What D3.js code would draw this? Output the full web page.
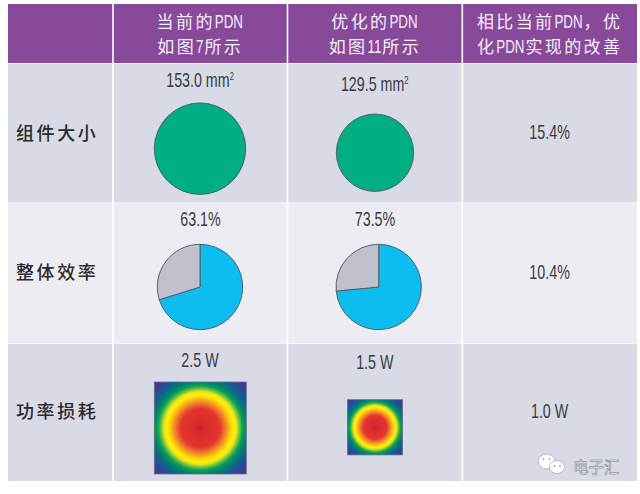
<!DOCTYPE html>
<html><head><meta charset="utf-8">
<script src="https://cdn.jsdelivr.net/npm/d3@7/dist/d3.min.js"></script>
<style>
html,body{margin:0;padding:0;background:#fff}
svg{display:block}
</style></head><body>
<svg id="c" width="640" height="494"></svg>
<script>
// Data
const headerLine1 = ["", "当前的PDN", "优化的PDN", "相比当前PDN，优"];
const headerLine2 = ["", "如图7所示", "如图11所示", "化PDN实现的改善"];
const rowLabels = ["组件大小", "整体效率", "功率损耗"];
const areaValues = [153.0, 129.5];
const areaLabels = ["153.0 mm", "129.5 mm"];
const drawnPieShare = [70.2, 73.5];
const efficiencyLabels = ["63.1%", "73.5%"];
const lossValues = [2.5, 1.5];
const lossLabels = ["2.5 W", "1.5 W"];
const improvements = ["15.4%", "10.4%", "1.0 W"];
const heatOffsets = [0, .06, .30, .38, .46, .51, .56, .60, .65, .71, .80, .90, 1];
const heatColors = ["#c41e2a", "#d42a2c", "#e5352e", "#ee7a2a", "#fcc514", "#fff100", "#e6e51c", "#7cc242", "#07a651", "#047f6e", "#0f5f96", "#3a3c98", "#5b2b92"];

const svg = d3.select("#c");
const colEdges = [8, 113, 287.5, 462.3, 637];
const rowEdges = [4, 63, 202.5, 343, 481];
const rowFill = ["#d8dbe5", "#ebedf2", "#d8dbe5"];
const x = i => colEdges[i], y = i => rowEdges[i];
const colMid = i => (colEdges[i] + colEdges[i + 1]) / 2;
const CJK = '"Noto Sans CJK SC",sans-serif';
const LAT = '"Liberation Sans",Arial,sans-serif';
const NARROW = 0.72;
const NUM_NARROW = 0.68;

// cells
const gap = 1.6;
svg.append("g").selectAll("rect").data(d3.range(4)).join("rect")
  .attr("x", i => x(i) + (i ? gap / 2 : 0)).attr("y", y(0))
  .attr("width", i => x(i + 1) - x(i) - (i ? gap / 2 : 0) - (i < 3 ? gap / 2 : 0))
  .attr("height", y(1) - y(0)).attr("fill", "#88499b");
rowFill.forEach((f, r) => {
  svg.append("g").selectAll("rect").data(d3.range(4)).join("rect")
    .attr("x", i => x(i) + (i ? gap / 2 : 0)).attr("y", y(r + 1) + gap / 2)
    .attr("width", i => x(i + 1) - x(i) - (i ? gap / 2 : 0) - (i < 3 ? gap / 2 : 0))
    .attr("height", y(r + 2) - y(r + 1) - gap / 2).attr("fill", f);
});

// mixed CJK / condensed Latin line, centred on cx
function mixedLine(str, cx, by) {
  const runs = str.match(/[A-Za-z0-9]+|[^A-Za-z0-9]+/g) || [];
  const g = svg.append("g");
  let pos = 0;
  runs.forEach(run => {
    const isLat = /^[A-Za-z0-9]/.test(run);
    const t = g.append("text").attr("y", 0).attr("fill", "#f6eef8").text(run)
      .attr("font-family", isLat ? LAT : CJK)
      .attr("font-size", isLat ? 18.5 : 17)
      .attr("letter-spacing", isLat ? 0 : 2.4);
    const w = t.node().getComputedTextLength() * (isLat ? NARROW : 1);
    t.attr("transform", `translate(${pos},0)` + (isLat ? ` scale(${NARROW},1)` : ""));
    pos += w + (isLat ? 1 : 0);
  });
  g.attr("transform", `translate(${cx - pos / 2},${by})`);
}
headerLine1.slice(1).forEach((s, i) => mixedLine(s, colMid(i + 1), 28));
headerLine2.slice(1).forEach((s, i) => mixedLine(s, colMid(i + 1), 53));

// row labels
svg.append("g").selectAll("text").data(rowLabels).join("text")
  .attr("font-family", CJK).attr("x", 16).attr("y", (d, i) => [140, 279, 418][i])
  .attr("fill", "#2c2a2e").attr("font-size", 18).attr("font-weight", 500)
  .attr("letter-spacing", 2.6).text(d => d);

// condensed numeric labels
function numText(s, cx, by, sup) {
  const t = svg.append("text")
    .attr("transform", `translate(${cx},${by}) scale(${NUM_NARROW},1)`)
    .attr("text-anchor", "middle").attr("font-family", LAT)
    .attr("font-size", 21).attr("fill", "#3a3a40").text(s);
  if (sup) t.append("tspan").attr("font-size", 11).attr("dy", -7.5).text(sup);
}
const areaCx = [200, 375], areaCy = [148.7, 152.7];
areaLabels.forEach((s, i) => numText(s, [200, 374.7][i], [87, 91][i], "2"));
const pieCx = [200, 378.7], pieCy = 287;
efficiencyLabels.forEach((s, i) => numText(s, [200.5, 375][i], 226));
const lossCx = [200.3, 375], lossCy = [428, 427.3];
lossLabels.forEach((s, i) => numText(s, [200, 374.8][i], [366.7, 369.3][i]));
improvements.forEach((s, i) => numText(s, 549.6, [139.3, 278.5, 418][i]));

// area circles
const rScale = d3.scaleLinear().domain([0, 153]).range([0, 45.7]);
svg.append("g").selectAll("circle").data(areaValues).join("circle")
  .attr("cx", (d, i) => areaCx[i]).attr("cy", (d, i) => areaCy[i]).attr("r", d => rScale(d))
  .attr("fill", "#00ae84").attr("stroke", "#4f5560").attr("stroke-width", 0.9);

// pies
const pie = d3.pie().sort(null);
const arc = d3.arc().innerRadius(0).outerRadius(42.7);
const pieColors = ["#0dbdf0", "#bfc1cc"];
drawnPieShare.forEach((v, i) => {
  svg.append("g").attr("transform", `translate(${pieCx[i]},${pieCy})`)
    .selectAll("path").data(pie([v, 100 - v])).join("path")
    .attr("d", arc).attr("fill", (d, j) => pieColors[j])
    .attr("stroke", "#4f5560").attr("stroke-width", 0.9).attr("stroke-linejoin", "round");
});

// heat squares
const sideScale = d3.scaleLinear().domain([0, 2.5]).range([0, 92]);
const defs = svg.append("defs");
lossValues.forEach((v, i) => {
  const s = sideScale(v), cx = lossCx[i], cy = lossCy[i];
  const g = defs.append("radialGradient").attr("id", "heat" + i)
    .attr("gradientUnits", "userSpaceOnUse")
    .attr("cx", cx).attr("cy", cy).attr("r", s / 2 * Math.SQRT2);
  g.selectAll("stop").data(heatOffsets).join("stop")
    .attr("offset", d => d).attr("stop-color", (d, j) => heatColors[j]);
  svg.append("rect").attr("x", cx - s / 2).attr("y", cy - s / 2)
    .attr("width", s).attr("height", s).attr("fill", `url(#heat${i})`)
    .attr("stroke", "#6d7080").attr("stroke-width", 0.8);
});

// watermark
const wm = svg.append("g").attr("fill", "#fff").attr("stroke", "#a6a9b2").attr("stroke-width", 0.8);
wm.append("ellipse").attr("cx", 546.7).attr("cy", 461.5).attr("rx", 8.5).attr("ry", 7.5);
wm.append("ellipse").attr("cx", 557).attr("cy", 467).attr("rx", 7.5).attr("ry", 6.5);
const eyes = svg.append("g").attr("fill", "#666a74");
[[543.5, 459], [549.5, 459], [554.5, 466], [560, 466]].forEach(p =>
  eyes.append("circle").attr("cx", p[0]).attr("cy", p[1]).attr("r", 0.8));
svg.append("text").attr("font-family", CJK).attr("x", 573).attr("y", 473)
  .attr("font-size", 15.5).attr("letter-spacing", 0).attr("fill", "#f4f5f7")
  .attr("stroke", "#70737c").attr("stroke-width", 0.5).text("电子汇");
</script></body></html>
